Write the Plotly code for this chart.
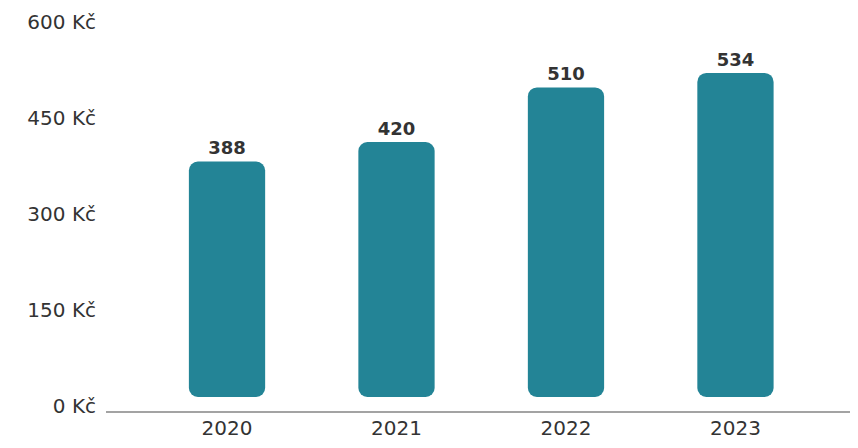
import plotly.graph_objects as go

years = ["2020", "2021", "2022", "2023"]
prices = [388, 420, 510, 534]
tick_vals = [0, 150, 300, 450, 600]
tick_text = ["0 Kč", "150 Kč", "300 Kč", "450 Kč", "600 Kč"]

bar_col = "#238496"
txt_col = "#333333"
fnt = "DejaVu Sans"

fig = go.Figure()

# an explicit base makes plotly round both ends of the bar
fig.add_trace(go.Bar(
    x=years, y=prices, base=[0] * len(prices),
    marker=dict(color=bar_col, line=dict(width=0)),
    width=0.45, showlegend=False,
    text=[str(v) for v in prices], textposition="outside", cliponaxis=False,
    textfont=dict(family=fnt, size=18, color=txt_col, weight="bold"),
    hovertemplate="%{x}: %{y} Kč<extra></extra>",
))
# invisible trace only to carry the tick-label axis
fig.add_trace(go.Scatter(
    x=years, y=prices, yaxis="y2", mode="markers",
    marker=dict(opacity=0), hoverinfo="skip", showlegend=False,
))

# page body has an 8px margin, so the figure is kept smaller
fig.update_layout(
    width=850, height=432,
    margin=dict(l=98, r=0, t=2, b=29),
    plot_bgcolor="white", paper_bgcolor="white",
    barcornerradius=9,
    font=dict(family=fnt, color=txt_col),
    xaxis=dict(
        type="category", range=[-0.714, 3.723],
        showline=True, linecolor="#a3a3a3", linewidth=2,
        showgrid=False, zeroline=False, ticks="",
        tickfont=dict(size=20, color=txt_col), automargin=False,
        ticklabelstandoff=-2,
    ),
    yaxis=dict(
        range=[-23.1, 637.6], showticklabels=False, showgrid=False,
        zeroline=False, showline=False, fixedrange=True, automargin=False,
    ),
    yaxis2=dict(
        overlaying="y", side="left", range=[-7.8, 618.75],
        tickvals=tick_vals, ticktext=tick_text, ticks="",
        showgrid=False, zeroline=False, showline=False,
        tickfont=dict(size=20, color=txt_col), ticklabelstandoff=9,
        automargin=False,
    ),
)

fig.write_html("out.html")
